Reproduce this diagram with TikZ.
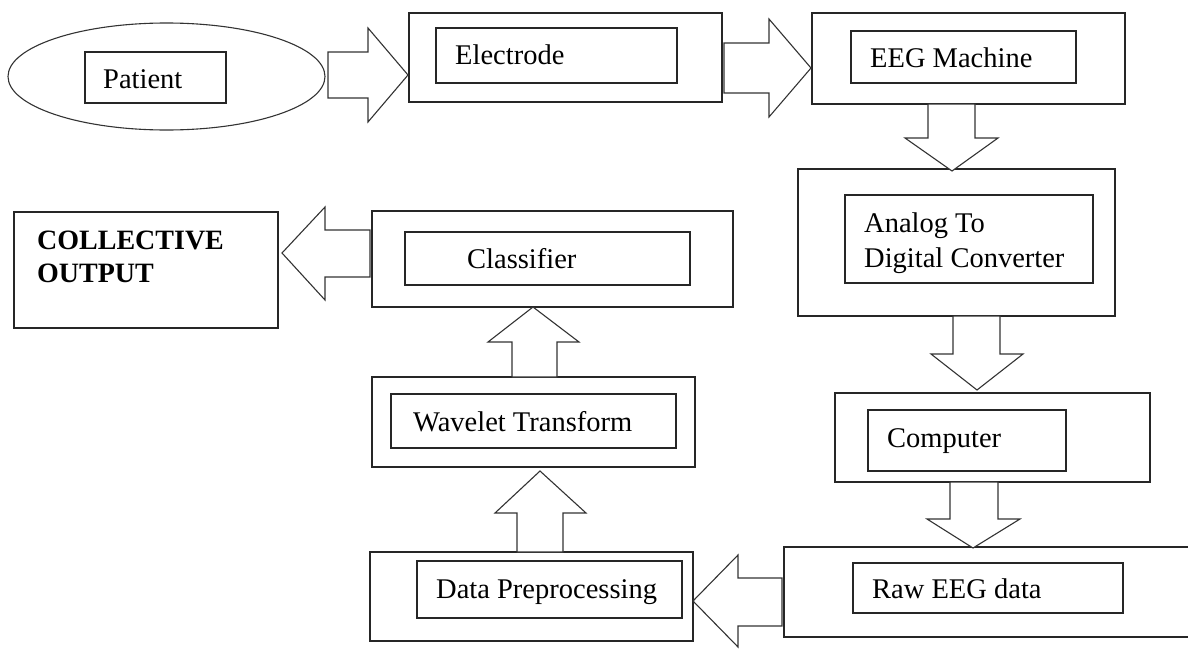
\documentclass[tikz,border=0pt]{standalone}
\usepackage{fontspec}
\setmainfont{Liberation Serif}
\usetikzlibrary{shapes.geometric}
\begin{document}
\begin{tikzpicture}[x=1pt,y=-1pt,
  obox/.style={draw=black!85,line width=1.3pt,rectangle,inner sep=0pt},
  ibox/.style={draw=black!85,line width=1.2pt,rectangle,inner sep=0pt},
  lbl/.style={anchor=base west,inner sep=0pt,font=\fontsize{28.5}{35}\selectfont},
  blockarrow/.style={draw=black!80,line width=1.1pt,line join=miter,fill=white}]
\useasboundingbox (0,0) rectangle (1188,648);
\clip (0,0) rectangle (1188,648);
% Patient
\node[ellipse,draw=black!80,line width=1.1pt,minimum width=317pt,minimum height=107pt,inner sep=0pt] (patE) at (166.5,76.5) {};
\node[ibox,minimum width=141pt,minimum height=51pt] (pat) at (155.5,77.5) {};
\node[lbl] (patT) at (103,88) {Patient};
% Electrode
\node[obox,minimum width=313pt,minimum height=89pt] (elec) at (565.5,57.5) {};
\node[ibox,minimum width=241pt,minimum height=55pt] (eleci) at (556.5,55.5) {};
\node[lbl] (elecT) at (455,64) {Electrode};
% EEG machine
\node[obox,minimum width=313pt,minimum height=91pt] (eeg) at (968.5,58.5) {};
\node[ibox,minimum width=225pt,minimum height=52pt] (eegi) at (963.5,57) {};
\node[lbl] (eegT) at (870,67) {EEG Machine};
% ADC
\node[obox,minimum width=317pt,minimum height=147pt] (adc) at (956.5,242.5) {};
\node[ibox,minimum width=248pt,minimum height=88pt] (adci) at (969,239) {};
\node[lbl] (adcT1) at (864,232) {Analog To};
\node[lbl] (adcT2) at (864,267) {Digital Converter};
% Computer
\node[obox,minimum width=315pt,minimum height=89pt] (comp) at (992.5,437.5) {};
\node[ibox,minimum width=198pt,minimum height=61pt] (compi) at (967,440.5) {};
\node[lbl] (compT) at (887,447) {Computer};
% Raw EEG data (box runs off the right edge)
\coordinate (rawNE) at (1200,547);
\coordinate (rawSE) at (1200,637);
\draw[draw=black!85,line width=1.3pt] (rawNE) -- (784,547) -- (784,637) -- (rawSE);
\node[ibox,minimum width=270pt,minimum height=50pt] (rawi) at (988,588) {};
\node[lbl] (rawT) at (872,598) {Raw EEG data};
% Data preprocessing
\node[obox,minimum width=323pt,minimum height=89pt] (prep) at (531.5,596.5) {};
\node[ibox,minimum width=265pt,minimum height=57pt] (prepi) at (549.5,589.5) {};
\node[lbl] (prepT) at (436,598) {Data Preprocessing};
% Wavelet
\node[obox,minimum width=323pt,minimum height=90pt] (wav) at (533.5,422) {};
\node[ibox,minimum width=285pt,minimum height=54pt] (wavi) at (533.5,421) {};
\node[lbl] (wavT) at (413,431) {Wavelet Transform};
% Classifier
\node[obox,minimum width=361pt,minimum height=96pt] (cls) at (552.5,259) {};
\node[ibox,minimum width=285pt,minimum height=53pt] (clsi) at (547.5,258.5) {};
\node[lbl] (clsT) at (467,268) {Classifier};
% Collective output
\node[obox,minimum width=264pt,minimum height=116pt] (out) at (146,270) {};
\node[lbl,font=\fontsize{28}{35}\selectfont\bfseries] (outT1) at (37,249) {COLLECTIVE};
\node[lbl,font=\fontsize{28}{35}\selectfont\bfseries] (outT2) at (37,282) {OUTPUT};
% Block arrows
\draw[blockarrow] (328,52) -- (368,52) -- (368,28) -- (408,75) -- (368,122) -- (368,98) -- (328,98) -- cycle;
\draw[blockarrow] (724,43) -- (769,43) -- (769,19) -- (811,68) -- (769,117) -- (769,93) -- (724,93) -- cycle;
\draw[blockarrow] (928,104) -- (928,138) -- (905,138) -- (952,171) -- (998,138) -- (975,138) -- (975,104) -- cycle;
\draw[blockarrow] (953,316) -- (953,354) -- (931,354) -- (977,390) -- (1023,354) -- (1000,354) -- (1000,316) -- cycle;
\draw[blockarrow] (950,482) -- (950,519) -- (927,519) -- (973,548) -- (1020,519) -- (998,519) -- (998,482) -- cycle;
\draw[blockarrow] (782,578) -- (738,578) -- (738,555) -- (693,601) -- (738,647) -- (738,626) -- (782,626) -- cycle;
\draw[blockarrow] (517,552) -- (517,513) -- (495,513) -- (540,471) -- (586,513) -- (563,513) -- (563,552) -- cycle;
\draw[blockarrow] (512,377) -- (512,342) -- (488,342) -- (533,307) -- (579,342) -- (557,342) -- (557,377) -- cycle;
\draw[blockarrow] (370,230) -- (325,230) -- (325,207) -- (282,253) -- (325,300) -- (325,277) -- (370,277) -- cycle;
\end{tikzpicture}
\end{document}
